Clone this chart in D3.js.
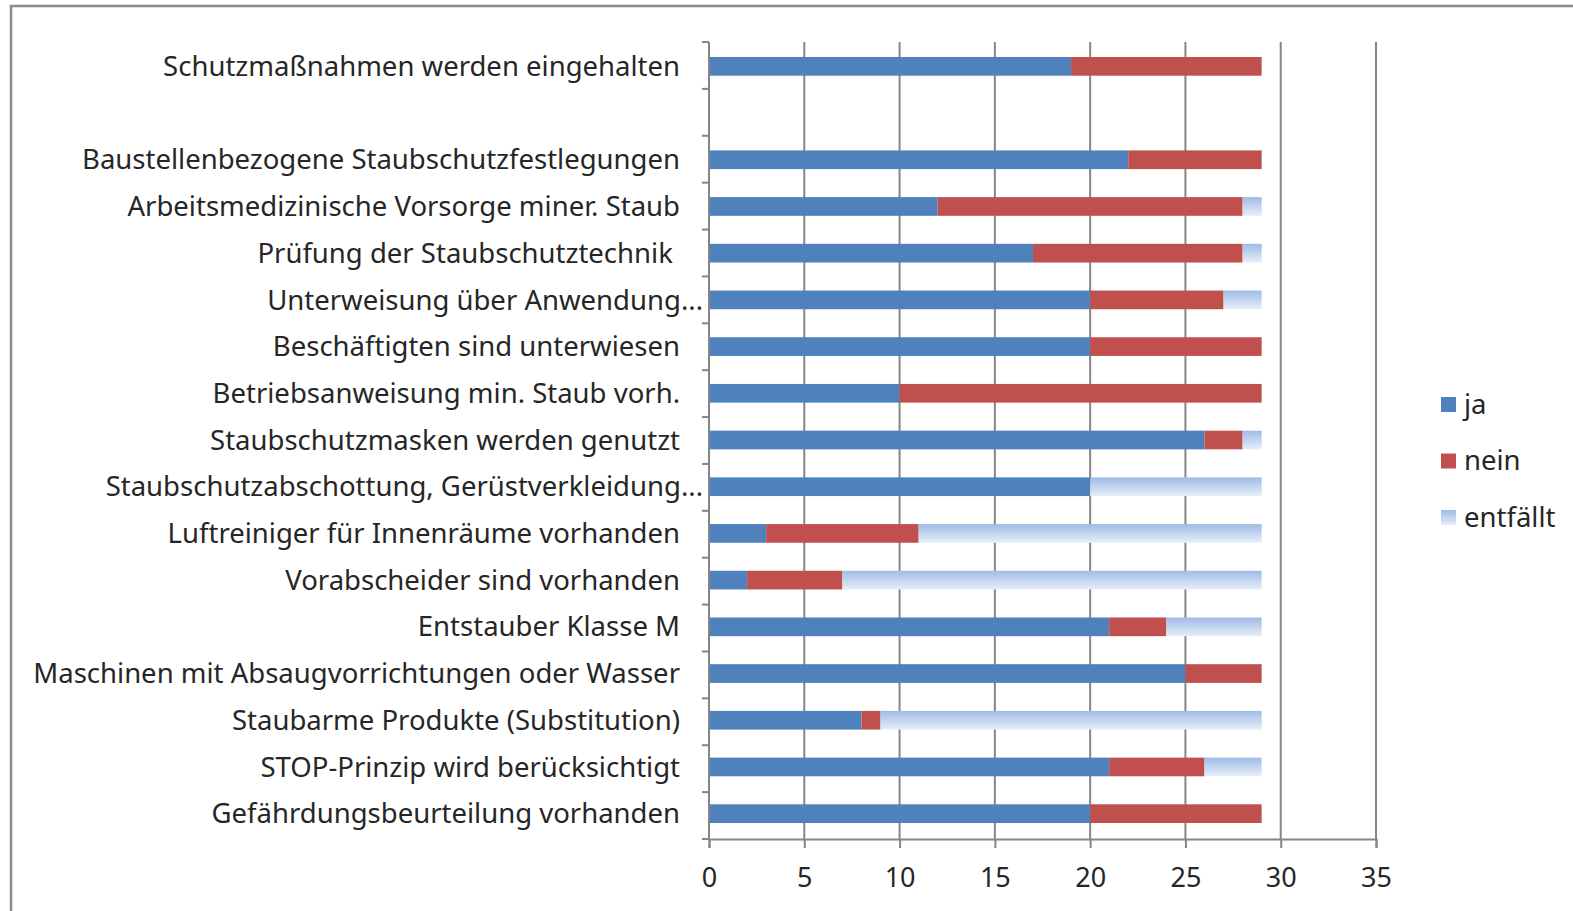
<!DOCTYPE html>
<html>
<head>
<meta charset="utf-8">
<script src="https://cdn.jsdelivr.net/npm/d3@7"></script>
<style>
  body { margin: 0; background: #fff; }
  svg text { font-family: "Noto Sans", "Open Sans", sans-serif; fill: #262626; }
</style>
</head>
<body>
<div class="chart"></div>
<script>
let width = 1573,
    height = 911;

// top to bottom, "" is the empty slot
const categories = [
    "Schutzmaßnahmen werden eingehalten",
    "",
    "Baustellenbezogene Staubschutzfestlegungen",
    "Arbeitsmedizinische Vorsorge miner. Staub",
    "Prüfung der Staubschutztechnik ",
    "Unterweisung über Anwendung...",
    "Beschäftigten sind unterwiesen",
    "Betriebsanweisung min. Staub vorh.",
    "Staubschutzmasken werden genutzt",
    "Staubschutzabschottung, Gerüstverkleidung...",
    "Luftreiniger für Innenräume vorhanden",
    "Vorabscheider sind vorhanden",
    "Entstauber Klasse M",
    "Maschinen mit Absaugvorrichtungen oder Wasser",
    "Staubarme Produkte (Substitution)",
    "STOP-Prinzip wird berücksichtigt",
    "Gefährdungsbeurteilung vorhanden"
];

const ja       = [19, null, 22, 12, 17, 20, 20, 10, 26, 20, 3, 2, 21, 25, 8, 21, 20];
const nein     = [10, null, 7, 16, 11, 7, 9, 19, 2, 0, 8, 5, 3, 4, 1, 5, 9];
const entfaellt = [0, null, 0, 1, 1, 2, 0, 0, 1, 9, 18, 22, 5, 0, 20, 3, 0];

const seriesNames = ["ja", "nein", "entfällt"];
const xTicks = [0, 5, 10, 15, 20, 25, 30, 35];

document.addEventListener('DOMContentLoaded', () => {
    let svg = d3.select(".chart").append("svg")
        .attr("width", width)
        .attr("height", height);

    let defs = svg.append("defs");
    let grad = defs.append("linearGradient")
        .attr("id", "entGrad")
        .attr("x1", 0).attr("y1", 0).attr("x2", 0).attr("y2", 1);
    grad.append("stop").attr("offset", "0%").attr("stop-color", "#9fbbe6");
    grad.append("stop").attr("offset", "100%").attr("stop-color", "#e6eef9");

    const colors = ["#4f81bd", "#c0504d", "url(#entGrad)"];

    // outer frame
    svg.append("rect")
        .attr("x", 11).attr("y", 6)
        .attr("width", 1600).attr("height", 950)
        .style("fill", "none")
        .style("stroke", "#8c8c8c")
        .style("stroke-width", 2.5);

    let top = 42, bottom = 839;
    let x = d3.scaleLinear().domain([0, 35]).range([709, 1376]);
    let y = d3.scaleBand()
        .domain(d3.range(categories.length))
        .range([top + 1, bottom - 2])
        .paddingInner(0.6)
        .paddingOuter(0.3);

    // gridlines
    svg.selectAll(".grid")
        .data(xTicks.slice(1))
        .enter().append("line")
        .attr("x1", d => x(d)).attr("x2", d => x(d))
        .attr("y1", top).attr("y2", bottom)
        .style("stroke", "#868686")
        .style("stroke-width", 2);

    // stacked bars
    const rows = categories.map((c, i) => ({ i: i, ja: ja[i], nein: nein[i], ent: entfaellt[i] }))
        .filter(r => r.ja !== null);
    const stack = d3.stack().keys(["ja", "nein", "ent"])(rows);

    stack.forEach((layer, k) => {
        svg.append("g").selectAll("rect")
            .data(layer)
            .enter().append("rect")
            .attr("x", d => x(d[0]))
            .attr("y", d => y(d.data.i))
            .attr("width", d => x(d[1]) - x(d[0]))
            .attr("height", y.bandwidth())
            .style("fill", colors[k]);
    });

    // x axis
    let xAxis = svg.append("g")
        .attr("transform", `translate(0,${bottom})`)
        .call(d3.axisBottom(x).tickValues(xTicks).tickSize(9).tickPadding(20));
    xAxis.select(".domain").style("stroke", "#868686").style("stroke-width", 2);
    xAxis.selectAll(".tick line").style("stroke", "#868686").style("stroke-width", 2);
    xAxis.selectAll("text")
        .style("font-size", "27px")
        .style("font-family", "\"Noto Sans\", sans-serif")
        .style("fill", "#262626");

    // y axis line and boundary ticks
    svg.append("line")
        .attr("x1", x(0)).attr("x2", x(0))
        .attr("y1", top).attr("y2", bottom)
        .style("stroke", "#868686").style("stroke-width", 2);
    let slot = (bottom - top) / categories.length;
    svg.selectAll(".ytick")
        .data(d3.range(categories.length + 1))
        .enter().append("line")
        .attr("x1", x(0) - 7).attr("x2", x(0))
        .attr("y1", d => top + d * slot)
        .attr("y2", d => top + d * slot)
        .style("stroke", "#868686").style("stroke-width", 2);

    // category labels
    svg.selectAll(".label")
        .data(categories.map((c, i) => ({ c: c, i: i })).filter(d => d.c !== ""))
        .enter().append("text")
        .attr("x", d => d.c.endsWith("...") ? 703 : 680)
        .attr("y", d => y(d.i) + y.bandwidth() / 2)
        .attr("dy", "0.35em")
        .attr("text-anchor", "end")
        .style("font-size", "27.5px")
        .style("white-space", "pre")
        .text(d => d.c);

    // legend
    let legend = svg.append("g");
    seriesNames.forEach((s, k) => {
        let ly = 404 + k * 56.5;
        legend.append("rect")
            .attr("x", 1441).attr("y", ly - 7)
            .attr("width", 15).attr("height", 15)
            .style("fill", colors[k]);
        legend.append("text")
            .attr("x", 1464).attr("y", ly)
            .attr("dy", "0.35em")
            .style("font-size", "27.5px")
            .text(s);
    });
});
</script>
</body>
</html>
